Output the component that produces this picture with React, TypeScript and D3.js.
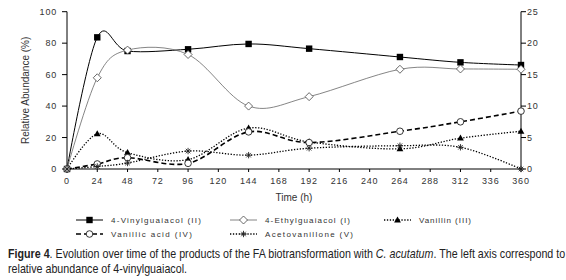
import React, { useEffect, useRef, useState } from "react";
import * as d3 from "d3";

const hours = [0, 24, 48, 96, 144, 192, 264, 312, 360];
const vinylguaiacol = [0, 83.7, 75, 76.1, 79.5, 76.5, 71.2, 67.8, 66.1];
const ethylguaiacol = [0, 14.5, 18.9, 18.2, 10.0, 11.5, 15.85, 15.9, 15.85];
const vanillin = [0, 5.6, 2.6, 1.5, 6.5, 4.3, 3.2, 4.9, 6.0];
const vanillicAcid = [0, 0.8, 1.8, 0.9, 5.9, 4.2, 6.0, 7.5, 9.2];
const acetovanillone = [0, 0.4, 0.95, 2.85, 2.2, 3.3, 3.7, 3.45, 0];
const xTicks = [0, 24, 48, 72, 96, 120, 144, 168, 192, 216, 240, 264, 288, 312, 336, 360];
const leftTicks = [0, 20, 40, 60, 80, 100];
const rightTicks = [0, 5, 10, 15, 20, 25];

const W = 566, H = 280;
const L = 67, R = 521, T = 11.7, B = 169;
const FONT = "'Liberation Sans', Arial, sans-serif";

type Marker = "square" | "diamond" | "triangle" | "circle" | "star";

function MarkerShape({ kind, x, y }: { kind: Marker; x: number; y: number }) {
  if (kind === "square") return <rect x={x - 3.2} y={y - 3.2} width={6.4} height={6.4} fill="#000" />;
  if (kind === "diamond")
    return <path d={`M${x},${y - 4}L${x + 4},${y}L${x},${y + 4}L${x - 4},${y}Z`} fill="#fff" stroke="#444" strokeWidth={0.8} />;
  if (kind === "triangle")
    return <path d={`M${x},${y - 3.6}L${x + 3.4},${y + 2.4}L${x - 3.4},${y + 2.4}Z`} fill="#000" />;
  if (kind === "circle") return <circle cx={x} cy={y} r={3.3} fill="#fff" stroke="#222" strokeWidth={0.9} />;
  const s = 3.2;
  return (
    <g stroke="#222" strokeWidth={0.9}>
      <line x1={x - s} y1={y} x2={x + s} y2={y} />
      <line x1={x - s * 0.7} y1={y - s * 0.7} x2={x + s * 0.7} y2={y + s * 0.7} />
      <line x1={x - s * 0.7} y1={y + s * 0.7} x2={x + s * 0.7} y2={y - s * 0.7} />
      <line x1={x} y1={y - s} x2={x} y2={y + s} />
    </g>
  );
}

export default function App() {
  const x = d3.scaleLinear().domain([0, 360]).range([L, R]);
  const yL = d3.scaleLinear().domain([0, 100]).range([B, T]);
  const yR = d3.scaleLinear().domain([0, 25]).range([B, T]);

  const cap1 = useRef<SVGTextElement>(null);
  const cap2 = useRef<SVGTextElement>(null);
  const [sc, setSc] = useState<[number, number]>([0.87, 0.87]);
  useEffect(() => {
    const w1 = cap1.current ? cap1.current.getComputedTextLength() : 0;
    const w2 = cap2.current ? cap2.current.getComputedTextLength() : 0;
    if (w1 > 0 && w2 > 0) setSc([557 / w1, 179 / w2]);
  }, []);

  const series = [
    { name: "4-Vinylguaiacol (II)", vals: vinylguaiacol, y: yL, stroke: "#000", sw: 1, dash: "", marker: "square" as Marker, lx: 76, ly: 220, tw: 90 },
    { name: "4-Ethylguaiacol (I)", vals: ethylguaiacol, y: yR, stroke: "#666", sw: 0.8, dash: "", marker: "diamond" as Marker, lx: 230, ly: 220, tw: 85 },
    { name: "Vanillin (III)", vals: vanillin, y: yR, stroke: "#000", sw: 1.3, dash: "1.3 1.6", marker: "triangle" as Marker, lx: 384, ly: 220, tw: 52 },
    { name: "Vanillic acid (IV)", vals: vanillicAcid, y: yR, stroke: "#000", sw: 1.6, dash: "5 3", marker: "circle" as Marker, lx: 76, ly: 234, tw: 81 },
    { name: "Acetovanillone (V)", vals: acetovanillone, y: yR, stroke: "#000", sw: 1.3, dash: "1.3 1.6", marker: "star" as Marker, lx: 230, ly: 234, tw: 88 },
  ];

  return (
    <svg width={W} height={H} style={{ position: "absolute", left: 0, top: 0, background: "#fff" }}>
      {/* axes */}
      <line x1={L} y1={T} x2={L} y2={B} stroke="#000" strokeWidth={1} />
      <line x1={R} y1={T} x2={R} y2={B} stroke="#000" strokeWidth={1} />
      <line x1={L} y1={B} x2={R} y2={B} stroke="#000" strokeWidth={1} />
      {leftTicks.map((t) => (
        <g key={"l" + t}>
          <line x1={L - 5} x2={L} y1={yL(t)} y2={yL(t)} stroke="#000" />
          <text x={L - 10} y={yL(t) + 3} textAnchor="end" fontSize={9} letterSpacing={0.8} fontFamily={FONT} fill="#333">{t}</text>
        </g>
      ))}
      {rightTicks.map((t) => (
        <g key={"r" + t}>
          <line x1={R} x2={R + 5} y1={yR(t)} y2={yR(t)} stroke="#000" />
          <text x={R + 6} y={yR(t) + 3} textAnchor="start" fontSize={9} letterSpacing={0.8} fontFamily={FONT} fill="#333">{t}</text>
        </g>
      ))}
      {xTicks.map((t) => (
        <g key={"x" + t}>
          <line x1={x(t)} x2={x(t)} y1={B} y2={B + 3} stroke="#000" />
          <text x={x(t)} y={B + 15} textAnchor="middle" fontSize={9} letterSpacing={0.8} fontFamily={FONT} fill="#333">{t}</text>
        </g>
      ))}
      <text transform={`translate(29,${(T + B) / 2}) rotate(-90)`} textAnchor="middle" fontSize={10} fontFamily={FONT} fill="#333">Relative Abundance (%)</text>
      <text x={(L + R) / 2} y={201} textAnchor="middle" fontSize={10} fontFamily={FONT} fill="#333">Time (h)</text>

      {/* series */}
      {series.map((s) => {
        const line = d3
          .line<number>()
          .x((_, i) => x(hours[i]))
          .y((v) => s.y(v))
          .curve(d3.curveCatmullRom.alpha(0));
        return (
          <g key={s.name}>
            <path d={line(s.vals) || ""} fill="none" stroke={s.stroke} strokeWidth={s.sw} strokeDasharray={s.dash || undefined} />
            {s.vals.map((v, i) => (
              <MarkerShape key={i} kind={s.marker} x={x(hours[i])} y={s.y(v)} />
            ))}
          </g>
        );
      })}

      {/* legend */}
      {series.map((s) => (
        <g key={"lg" + s.name}>
          <line x1={s.lx} x2={s.lx + 27} y1={s.ly} y2={s.ly} stroke={s.stroke} strokeWidth={s.sw} strokeDasharray={s.dash || undefined} />
          <MarkerShape kind={s.marker} x={s.lx + 13.5} y={s.ly} />
          <text x={s.lx + 35} y={s.ly + 3} fontSize={8} fontFamily={FONT} fill="#333" textLength={s.tw} lengthAdjust="spacing">{s.name}</text>
        </g>
      ))}

      {/* caption */}
      <g transform={`translate(8,258) scale(${sc[0]},1)`}>
        <text ref={cap1} x={0} y={0} fontSize={12} fontFamily={FONT} fill="#222">
          <tspan fontWeight="bold">Figure 4</tspan>
          <tspan>. Evolution over time of the products of the FA biotransformation with </tspan>
          <tspan fontStyle="italic">C. acutatum</tspan>
          <tspan>. The left axis correspond to</tspan>
        </text>
      </g>
      <g transform={`translate(8,273) scale(${sc[1]},1)`}>
        <text ref={cap2} x={0} y={0} fontSize={12} fontFamily={FONT} fill="#222">
          relative abundance of 4-vinylguaiacol.
        </text>
      </g>
    </svg>
  );
}
